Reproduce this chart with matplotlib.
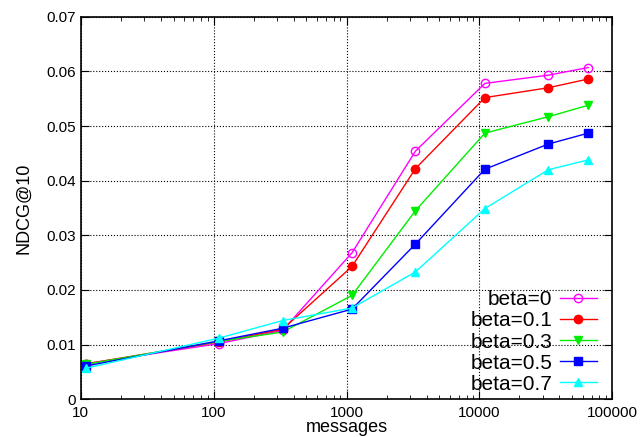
import numpy as np
import matplotlib.pyplot as plt

plt.rcParams['font.family'] = ['Liberation Sans', 'DejaVu Sans']

# data
messages = [11, 110, 330, 1100, 3300, 11000, 33000, 66000]
beta_labels = ['beta=0', 'beta=0.1', 'beta=0.3', 'beta=0.5', 'beta=0.7']
ndcg_b0 = [0.0065, 0.0102, 0.0126, 0.0268, 0.0454, 0.0578, 0.0593, 0.0607]
ndcg_b01 = [0.0065, 0.0105, 0.0128, 0.0243, 0.0422, 0.0552, 0.0570, 0.0586]
ndcg_b03 = [0.0064, 0.0106, 0.0123, 0.0190, 0.0345, 0.0487, 0.0517, 0.0538]
ndcg_b05 = [0.0061, 0.0107, 0.0130, 0.0165, 0.0284, 0.0421, 0.0467, 0.0487]
ndcg_b07 = [0.0057, 0.0112, 0.0144, 0.0167, 0.0233, 0.0349, 0.0420, 0.0438]

series = [ndcg_b0, ndcg_b01, ndcg_b03, ndcg_b05, ndcg_b07]
colors = ['#ff00ff', '#ff0000', '#00ee00', '#0000ff', '#00ffff']
markers = ['o', 'o', 'v', 's', '^']
fills = ['none', 'full', 'full', 'full', 'full']

fig = plt.figure(figsize=(6.44, 4.37), dpi=100)
ax = fig.add_axes([0.1253, 0.0863, 0.8255, 0.8755])

for vals, lab, c, m, fs in zip(series, beta_labels, colors, markers, fills):
    ax.plot(messages, vals, color=c, marker=m, fillstyle=fs, markersize=6,
            linewidth=1, label=lab, markeredgewidth=1)

ax.set_xscale('log')
ax.set_xlim(10, 100000)
ax.set_ylim(0, 0.07)
ax.set_yticks(np.arange(0, 0.071, 0.01))
ax.set_yticklabels(['0', '0.01', '0.02', '0.03', '0.04', '0.05', '0.06', '0.07'])
ax.set_xticks([10, 100, 1000, 10000, 100000])
ax.set_xticklabels(['10', '100', '1000', '10000', '100000'])
ax.tick_params(which='both', direction='in', top=True, right=True, labelsize=11)
ax.tick_params(axis='x', which='major', pad=5)
ax.tick_params(which='major', length=6)
ax.tick_params(which='minor', length=3)
ax.grid(True, which='major', color='black', linestyle=':', linewidth=0.8)
for s in ax.spines.values():
    s.set_linewidth(1.2)

ax.set_xlabel('messages', fontsize=13, labelpad=-1)
ax.set_ylabel('NDCG@10', fontsize=13, labelpad=10)

ax.legend(loc='lower right', frameon=False, markerfirst=False, fontsize=15,
          handlelength=1.8, handletextpad=0.35, labelspacing=0.1,
          borderaxespad=0.2, bbox_to_anchor=(0.995, -0.018))

fig.savefig('out.png', dpi=100)
